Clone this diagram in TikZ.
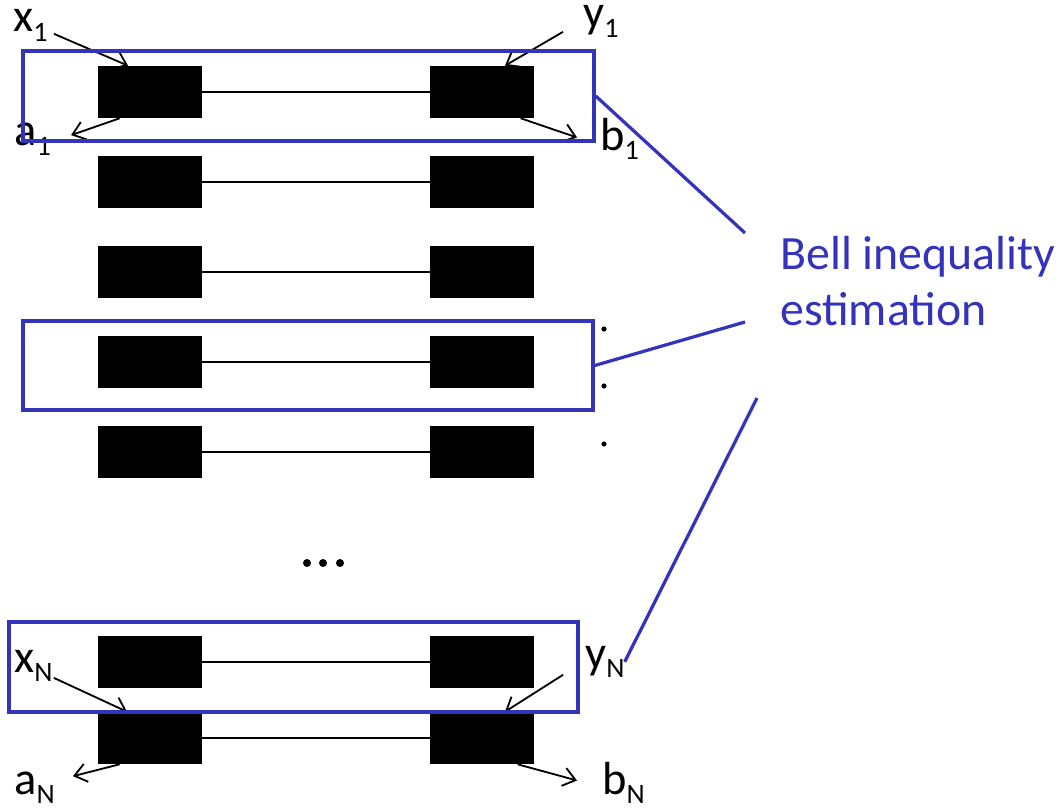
\documentclass[tikz,border=0pt]{standalone}
\usepackage{fontspec}
\setmainfont{Carlito}
\usetikzlibrary{arrows.meta, positioning, calc}
\definecolor{bblue}{RGB}{51,51,187}
% setting label with a dropped index
\newcommand{\io}[2]{#1\raisebox{-7pt}{\fontsize{20}{20}\selectfont #2}}

\begin{document}
\begin{tikzpicture}[x=0.025cm, y=-0.025cm,
  dev/.style={fill=black, inner sep=0pt, minimum width=2.6cm, minimum height=1.3cm},
  frame/.style={draw=bblue, line width=2.3pt, inner sep=0pt, minimum height=2.25cm},
  lbl/.style={font=\fontsize{33}{33}\selectfont, inner sep=0pt, anchor=base west},
  arr/.style={-{Straight Barb[length=3mm,width=4.6mm]}, line width=1.3pt},
  link/.style={line width=1pt},
  est/.style={bblue, line width=2.3pt}]
  \useasboundingbox (0,0) rectangle (1059,808);

  % pairs of boxes, one row per round
  \foreach \y [count=\i] in {92,182,272,362,452,662,738} {
    \node[dev] (A\i) at (150,\y) {};
    \node[dev] (B\i) at (482,\y) {};
    \draw[link] (A\i) -- (B\i);
  }

  % inputs and outputs
  \node[lbl] (x1) at (13,32)  {\io{x}{1}};
  \node[lbl] (y1) at (583,28) {\io{y}{1}};
  \node[lbl] (a1) at (14,146) {\io{a}{1}};
  \node[lbl] (b1) at (600,150) {\io{b}{1}};
  \node[lbl] (xN) at (14,672) {\io{x}{N}};
  \node[lbl] (yN) at (585,668) {\io{y}{N}};
  \node[lbl] (aN) at (14,794) {\io{a}{N}};
  \node[lbl] (bN) at (602,794) {\io{b}{N}};

  \draw[arr] ($(x1.east)+(6,8)$) -- ($(A1.north west)!.29!(A1.north east)$);
  \draw[arr] ($(A1.south west)!.21!(A1.south east)$) -- ($(a1.north east)+(20,12)$);
  \draw[arr] ($(y1.west)+(-20,10)$) -- ($(B1.north west)!.72!(B1.north east)$);
  \draw[arr] ($(B1.south west)!.87!(B1.south east)$) -- ($(b1.north west)+(-23,20)$);
  \draw[arr] ($(xN.east)+(1,12)$) -- ($(A7.north west)!.28!(A7.north east)$);
  \draw[arr] ($(yN.west)+(-22,13)$) -- ($(B7.north west)!.72!(B7.north east)$);
  \draw[arr] ($(A7.south west)!.21!(A7.south east)$) -- ($(aN.north east)+(18,5)$);
  \draw[arr] ($(B7.south west)!.84!(B7.south east)$) -- ($(bN.north west)+(-25,19)$);

  % dots between the rows
  \foreach \y in {329,386,444}
    \fill (604,\y) circle (2.6);
  \foreach \x in {307,323,340}
    \fill (\x,563) circle (4);

  % rows picked for the estimate
  \node[frame, minimum width=14.275cm] (f1) at (308.5,96) {};
  \node[frame, minimum width=14.25cm, minimum height=2.225cm] (f2) at (308,365.5) {};
  \node[frame, minimum width=14.225cm] (f3) at (293.5,667) {};

  \node[bblue, font=\fontsize{34}{40}\selectfont, align=left, inner sep=0pt,
        anchor=north west] (bell) at (780,236) {Bell inequality\\estimation};
  \coordinate (e1) at (745,233);
  \coordinate (e2) at (745,322);
  \coordinate (e3) at (757,398);
  \draw[est] (f1.east) -- (e1);
  \draw[est] (f2.east) -- (e2);
  \draw[est] (e3) -- (yN.east);
\end{tikzpicture}
\end{document}
